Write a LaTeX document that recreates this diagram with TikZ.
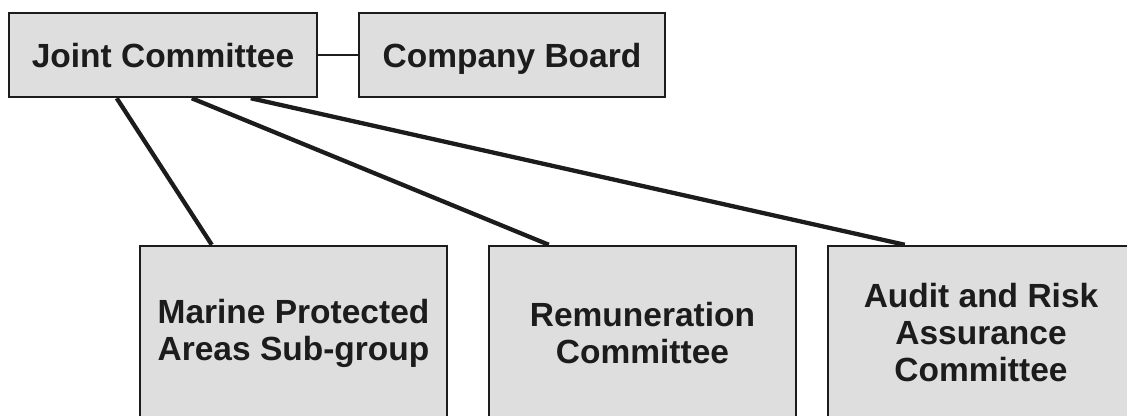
\documentclass[tikz,border=0pt]{standalone}
\usepackage{fontspec}
\setmainfont{Liberation Sans}
\definecolor{boxfill}{HTML}{DEDEDE}
\definecolor{ink}{HTML}{1C1C1C}
\begin{document}
\begin{tikzpicture}[x=1pt,y=-1pt,
  orgbox/.style={draw=ink, fill=boxfill, line width=2.5pt, inner sep=0pt,
    align=center, text=ink, font=\fontsize{33.5}{37}\selectfont\bfseries},
  topbox/.style={orgbox, minimum height=84pt, text height=24pt, text depth=0pt},
  link/.style={draw=ink, line width=4.3pt},
  thinlink/.style={draw=ink, line width=2pt}]
\useasboundingbox (0,0) rectangle (1127,415);
\begin{scope}
\clip (0,0) rectangle (1127,415);
\node[topbox, minimum width=308pt] (jc) at (163,55) {Joint Committee};
\node[topbox, minimum width=306pt] (cb) at (512,55) {Company Board};
\node[orgbox, minimum width=307pt, minimum height=174pt] (mpa) at (293.5,333) {Marine Protected\\Areas Sub-group};
\node[orgbox, minimum width=307pt, minimum height=174pt] (rem) at (642.5,333) {Remuneration\\Committee};
\node[orgbox, minimum width=306pt, minimum height=174pt] (ara) at (981,333) {Audit and Risk\\Assurance\\Committee};
\draw[thinlink] (jc.east) -- (cb.west);
\draw[link] ([xshift=109pt]jc.south west) -- ([xshift=73pt]mpa.north west);
\draw[link] ([xshift=184pt]jc.south west) -- ([xshift=61pt]rem.north west);
\draw[link] ([xshift=243pt]jc.south west) -- ([xshift=78pt]ara.north west);
\end{scope}
\end{tikzpicture}
\end{document}
